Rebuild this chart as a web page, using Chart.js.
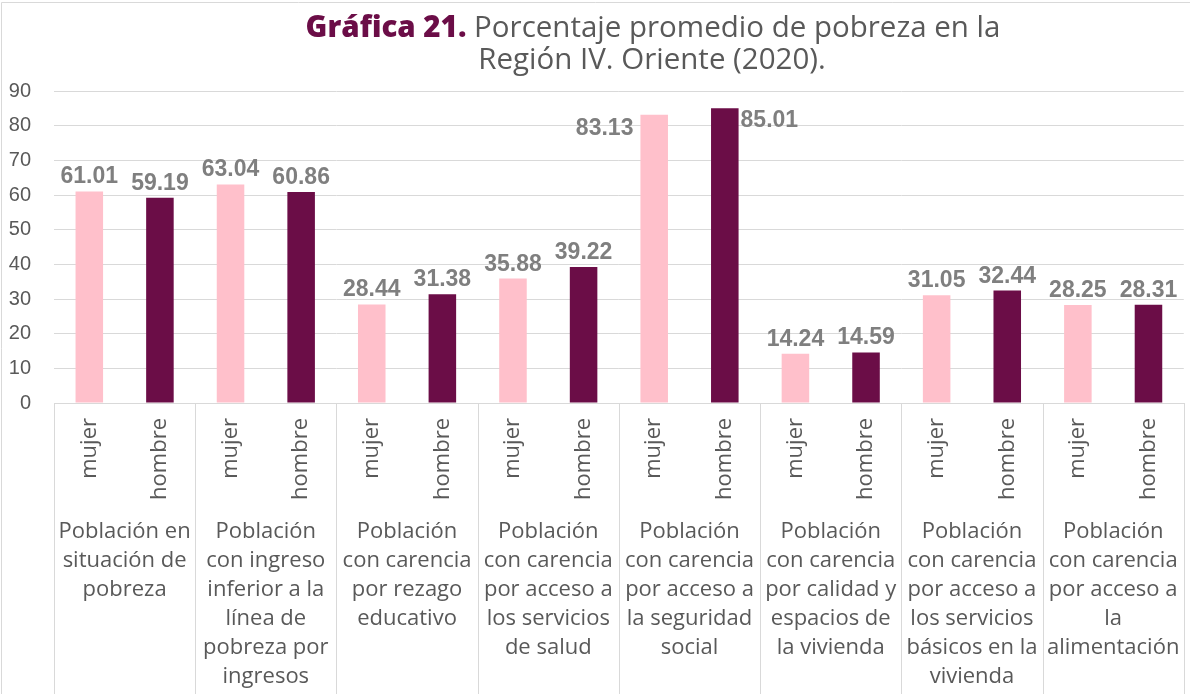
<!DOCTYPE html>
<html><head><meta charset="utf-8">
<script src="https://cdn.jsdelivr.net/npm/chart.js@4/dist/chart.umd.min.js"></script>
<style>html,body{margin:0;padding:0;background:#fff}#wrap{width:1190px;height:694px;position:relative}</style>
</head><body><div id="wrap"><canvas id="c" width="1190" height="694"></canvas></div>
<script>
const titleBold = 'Gráfica 21.';
const titleRest = ' Porcentaje promedio de pobreza en la';
const titleLine2 = 'Región IV. Oriente (2020).';
const groups = [
  ['Población en','situación de','pobreza'],
  ['Población','con ingreso','inferior a la','línea de','pobreza por','ingresos'],
  ['Población','con carencia','por rezago','educativo'],
  ['Población','con carencia','por acceso a','los servicios','de salud'],
  ['Población','con carencia','por acceso a','la seguridad','social'],
  ['Población','con carencia','por calidad y','espacios de','la vivienda'],
  ['Población','con carencia','por acceso a','los servicios','básicos en la','vivienda'],
  ['Población','con carencia','por acceso a','la','alimentación']
];
const sexes = ['mujer','hombre'];
const mujer  = [61.01, 63.04, 28.44, 35.88, 83.13, 14.24, 31.05, 28.25];
const hombre = [59.19, 60.86, 31.38, 39.22, 85.01, 14.59, 32.44, 28.31];
const yMin = 0, yMax = 90, yStep = 10;
const colors = {mujer:'#FFC0CB', hombre:'#6B0D47'};

const labels = [], values = [], bg = [];
groups.forEach((g,i)=>{
  labels.push(sexes[0]); values.push(mujer[i]); bg.push(colors.mujer);
  labels.push(sexes[1]); values.push(hombre[i]); bg.push(colors.hombre);
});

const GRID = '#d9d9d9';
const TXT = '#595959';
const FONT = '"Open Sans"';

const decor = {
  id:'decor',
  afterDraw(chart){
    const ctx = chart.ctx, ca = chart.chartArea, x = chart.scales.x;
    ctx.save();
    ctx.strokeStyle = GRID; ctx.lineWidth = 1;
    ctx.beginPath(); ctx.moveTo(1.5, 694); ctx.lineTo(1.5, 2.5); ctx.lineTo(1190, 2.5); ctx.stroke();
    const bounds = [ca.left];
    for(let i=1;i<groups.length;i++){
      bounds.push((x.getPixelForValue(2*i-1)+x.getPixelForValue(2*i))/2);
    }
    bounds.push(ca.right);
    ctx.beginPath();
    bounds.forEach(b=>{ const xx=Math.round(b)+0.5; ctx.moveTo(xx, ca.bottom); ctx.lineTo(xx, chart.height); });
    ctx.stroke();
    ctx.fillStyle = TXT; ctx.font = '22px ' + FONT; ctx.textAlign='center'; ctx.textBaseline='alphabetic';
    groups.forEach((g,i)=>{
      const cx = (bounds[i]+bounds[i+1])/2;
      g.forEach((line,j)=>ctx.fillText(line, cx, 538 + j*29));
    });
    ctx.textAlign='left';
    ctx.font = '800 29.5px ' + FONT;
    const wb = ctx.measureText(titleBold).width;
    ctx.font = '29.5px ' + FONT;
    const wr = ctx.measureText(titleRest).width;
    let sx = 653 - (wb+wr)/2;
    ctx.font = '800 29.5px ' + FONT; ctx.fillStyle = '#6B0D47';
    ctx.fillText(titleBold, sx, 36.5);
    ctx.font = '29.5px ' + FONT; ctx.fillStyle = TXT;
    ctx.fillText(titleRest, sx+wb, 36.5);
    ctx.textAlign='center';
    ctx.fillText(titleLine2, 652, 69);
    ctx.restore();
  },
  afterDatasetsDraw(chart){
    const ctx = chart.ctx, ca = chart.chartArea;
    const meta = chart.getDatasetMeta(0);
    ctx.save();
    ctx.font = 'bold 23px "Liberation Sans", Arial';
    ctx.fillStyle = '#7F7F7F';
    meta.data.forEach((bar,i)=>{
      const v = values[i], t = v.toFixed(2);
      const w = bar.width;
      if (bar.y - 8 - 18 < ca.top) {
        ctx.textBaseline='middle';
        if (i%2===0){ ctx.textAlign='right'; ctx.fillText(t, bar.x - w/2 - 7, bar.y + 14); }
        else { ctx.textAlign='left'; ctx.fillText(t, bar.x + w/2 + 2, bar.y + 12); }
      } else {
        ctx.textAlign='center'; ctx.textBaseline='alphabetic';
        ctx.fillText(t, bar.x, bar.y - 8);
      }
    });
    ctx.restore();
  }
};

new Chart(document.getElementById('c'), {
  type:'bar',
  data:{ labels, datasets:[{ data: values, backgroundColor: bg, borderWidth:0, barPercentage:0.39, categoryPercentage:1 }] },
  options:{
    responsive:false, animation:false,
    layout:{ padding:{ top:91, right:4, left:0, bottom:0 } },
    plugins:{ legend:{display:false}, tooltip:{enabled:false}, title:{display:false} },
    scales:{
      y:{ min:yMin, max:yMax, ticks:{ stepSize:yStep, color:TXT, font:{family:'"Liberation Sans", Arial', size:20}, padding:23 },
          grid:{ color:GRID, drawTicks:false }, border:{display:false},
          afterFit(s){ s.width = 54; } },
      x:{ ticks:{ color:TXT, font:{family:FONT, size:22}, minRotation:90, maxRotation:90, autoSkip:false, padding:15 },
          grid:{ display:false, drawTicks:false }, border:{ display:true, color:GRID },
          afterFit(s){ s.height = 291; } }
    }
  },
  plugins:[decor]
});
</script></body></html>
